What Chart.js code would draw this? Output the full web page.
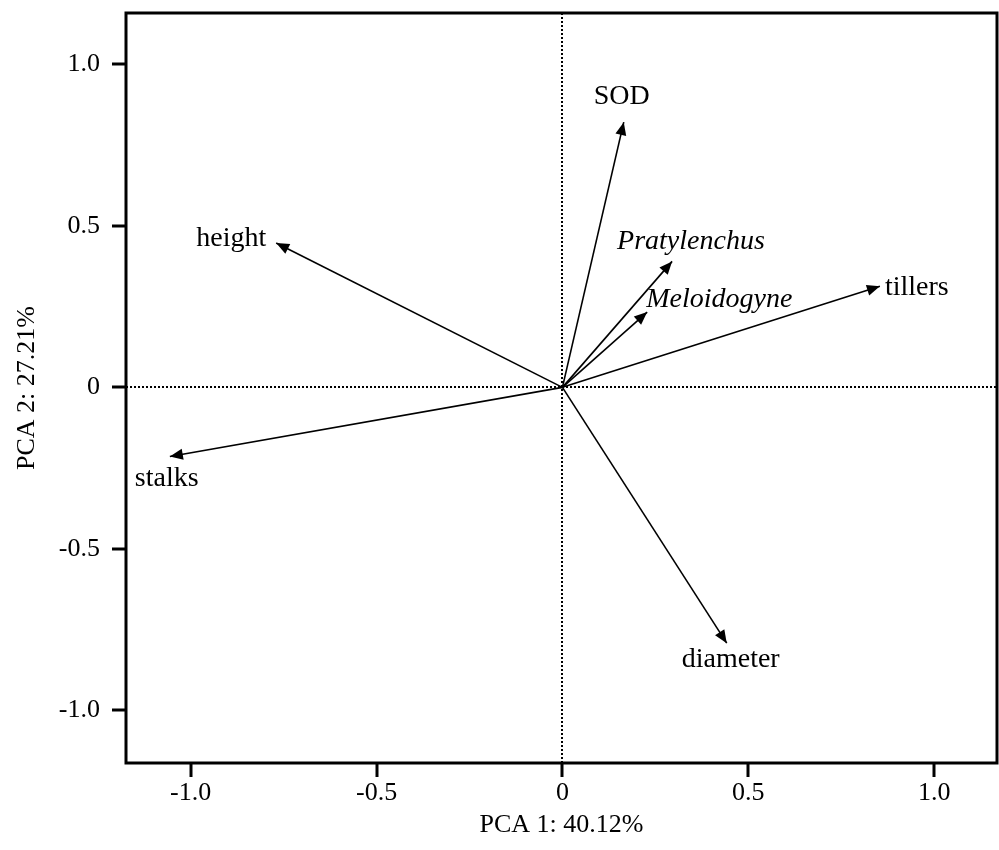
<!DOCTYPE html>
<html>
<head>
<meta charset="utf-8">
<script src="https://cdn.jsdelivr.net/npm/chart.js@4.4.1/dist/chart.umd.min.js"></script>
<style>
  html, body { margin: 0; padding: 0; background: #fff; }
  #wrap { width: 999px; height: 850px; }
</style>
</head>
<body>
<div id="wrap"><canvas id="pca"></canvas></div>
<script>
// PCA loadings
var varNames = ['SOD', 'Pratylenchus', 'Meloidogyne', 'tillers', 'height', 'stalks', 'diameter'];
var pc1 = [0.165, 0.295, 0.228, 0.854, -0.770, -1.056, 0.442];
var pc2 = [0.821, 0.390, 0.233, 0.313, 0.447, -0.214, -0.792];
var italicNames = ['Pratylenchus', 'Meloidogyne'];

var xTicks = [-1, -0.5, 0, 0.5, 1];
var xTickLabels = ['-1.0', '-0.5', '0', '0.5', '1.0'];
var yTicks = [-1, -0.5, 0, 0.5, 1];
var yTickLabels = ['-1.0', '-0.5', '0', '0.5', '1.0'];

var xTitle = 'PCA 1: 40.12%';
var yTitle = 'PCA 2: 27.21%';

// where each label sits relative to its arrow tip (pixels)
var labelPlace = {
  'SOD':          { align: 'center', dx: -2,  dy: -26 },
  'Pratylenchus': { align: 'left',   dx: -55, dy: -20 },
  'Meloidogyne':  { align: 'left',   dx: -1,  dy: -12 },
  'tillers':      { align: 'left',   dx: 5,   dy: 1 },
  'height':       { align: 'right',  dx: -10, dy: -4 },
  'stalks':       { align: 'left',   dx: -35, dy: 22 },
  'diameter':     { align: 'left',   dx: -45, dy: 16 }
};

var serif = '"Liberation Serif", "Times New Roman", serif';
var headLen = 13, headHalf = 5.5;

function zeroLine(ctx) {
  return ctx.tick && ctx.tick.value === 0 ? '#000' : 'rgba(0,0,0,0)';
}

var arrowPlugin = {
  id: 'arrows',
  afterDatasetsDraw: function(chart) {
    var ctx = chart.ctx;
    chart.data.datasets.forEach(function(ds, i) {
      var pts = chart.getDatasetMeta(i).data;
      var p0 = pts[0], p1 = pts[1];
      var a = Math.atan2(p1.y - p0.y, p1.x - p0.x);
      var bx = p1.x - headLen * Math.cos(a), by = p1.y - headLen * Math.sin(a);
      ctx.save();
      ctx.fillStyle = '#000';
      ctx.beginPath();
      ctx.moveTo(p1.x, p1.y);
      ctx.lineTo(bx + headHalf * Math.sin(a), by - headHalf * Math.cos(a));
      ctx.lineTo(bx - headHalf * Math.sin(a), by + headHalf * Math.cos(a));
      ctx.closePath();
      ctx.fill();

      var name = varNames[i];
      var pl = labelPlace[name];
      ctx.font = (italicNames.indexOf(name) >= 0 ? 'italic ' : '') + '28px ' + serif;
      ctx.textAlign = pl.align;
      ctx.textBaseline = 'middle';
      ctx.fillText(name, p1.x + pl.dx, p1.y + pl.dy);
      ctx.restore();
    });
  },
  afterDraw: function(chart) {
    var a = chart.chartArea, ctx = chart.ctx;
    ctx.save();
    ctx.strokeStyle = '#000';
    ctx.lineWidth = 3;
    ctx.strokeRect(a.left, a.top, a.right - a.left, a.bottom - a.top);
    ctx.restore();
  }
};

var datasets = varNames.map(function(n, i) {
  return {
    label: n,
    data: [{ x: 0, y: 0 }, { x: pc1[i], y: pc2[i] }],
    showLine: true,
    borderColor: '#000',
    borderWidth: 1.6,
    pointRadius: 0
  };
});

var tickFont = { family: serif, size: 26 };

new Chart(document.getElementById('pca'), {
  type: 'scatter',
  data: { datasets: datasets },
  options: {
    responsive: true,
    maintainAspectRatio: false,
    animation: false,
    layout: { padding: { top: 13, right: 2, left: 0, bottom: 0 } },
    plugins: { legend: { display: false }, tooltip: { enabled: false } },
    scales: {
      x: {
        type: 'linear', min: -1.174, max: 1.169,
        afterBuildTicks: function(s) { s.ticks = xTicks.map(function(v) { return { value: v }; }); },
        afterFit: function(s) { s.height = 87; s.paddingLeft = 0; s.paddingRight = 0; },
        grid: { color: zeroLine, lineWidth: 2, tickLength: 14, tickColor: '#000', tickWidth: 3 },
        border: { display: false, dash: [2, 2] },
        ticks: { padding: 1, font: tickFont, color: '#000',
                 callback: function(v, i) { return xTickLabels[i]; } },
        title: { display: true, text: xTitle, color: '#000',
                 font: { family: serif, size: 26 }, padding: { top: 0, bottom: 9 } }
      },
      y: {
        type: 'linear', min: -1.163, max: 1.159,
        afterBuildTicks: function(s) { s.ticks = yTicks.map(function(v) { return { value: v }; }); },
        afterFit: function(s) { s.width = 126; s.paddingTop = 0; s.paddingBottom = 0; },
        grid: { color: zeroLine, lineWidth: 2, tickLength: 14, tickColor: '#000', tickWidth: 3 },
        border: { display: false, dash: [2, 2] },
        ticks: { padding: 12, font: tickFont, color: '#000',
                 callback: function(v, i) { return yTickLabels[i]; } },
        title: { display: true, text: yTitle, color: '#000',
                 font: { family: serif, size: 26 }, padding: { top: 12, bottom: 0 } }
      }
    }
  },
  plugins: [arrowPlugin]
});
</script>
</body>
</html>
